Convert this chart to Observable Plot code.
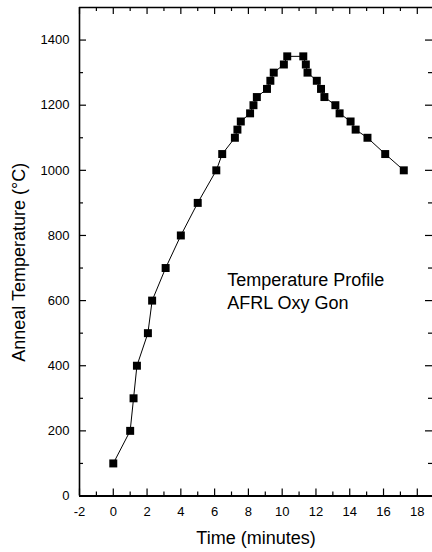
<!DOCTYPE html>
<html>
<head>
<meta charset="utf-8">
<script src="https://cdn.jsdelivr.net/npm/d3@7"></script>
<script src="https://cdn.jsdelivr.net/npm/@observablehq/plot@0.6"></script>
<style>
  html, body { margin: 0; padding: 0; background: #fff; }
  svg { display: block; }
</style>
</head>
<body>
<div id="chart"></div>
<script>
// Anneal temperature profile (AFRL Oxy Gon furnace)
const timeMin = [0, 1.0, 1.2, 1.4, 2.05, 2.3, 3.1, 4.0, 5.0, 6.1, 6.45, 7.2, 7.35, 7.55, 8.1, 8.3, 8.5, 9.1, 9.3, 9.5, 10.1, 10.3,
                 11.25, 11.4, 11.5, 12.05, 12.3, 12.5, 13.15, 13.4, 14.05, 14.35, 15.05, 16.1, 17.2];
const tempC   = [100, 200, 300, 400, 500, 600, 700, 800, 900, 1000, 1050, 1100, 1125, 1150, 1175, 1200, 1225, 1250, 1275, 1300, 1325, 1350,
                 1350, 1325, 1300, 1275, 1250, 1225, 1200, 1175, 1150, 1125, 1100, 1050, 1000];

const xMajor = [-2, 0, 2, 4, 6, 8, 10, 12, 14, 16, 18];
const xMinor = [-1, 1, 3, 5, 7, 9, 11, 13, 15, 17];
const yMajor = [0, 200, 400, 600, 800, 1000, 1200, 1400];
const yMinor = [100, 300, 500, 700, 900, 1100, 1300];

const xTitle = "Time (minutes)";
const yTitle = "Anneal Temperature (°C)";
const note = "Temperature Profile\nAFRL Oxy Gon";

const rows = timeMin.map((t, i) => ({t, T: tempC[i]}));

const W = 432, H = 552;
const mL = 79, mR = 0, mT = 7, mB = 56.5;
const fw = W - mL - mR, fh = H - mT - mB;
const major = 7, minor = 4;

const chart = Plot.plot({
  width: W,
  height: H,
  marginLeft: mL,
  marginRight: mR,
  marginTop: mT,
  marginBottom: mB,
  style: {fontFamily: "'Liberation Sans', Arial, sans-serif", background: "#fff", color: "#000"},
  x: {domain: [-2, 18.9]},
  y: {domain: [0, 1500]},
  marks: [
    // tick labels
    Plot.axisX({ticks: xMajor, tickSize: 0, tickPadding: 11, fontSize: 13, label: null, tickFormat: d => String(d)}),
    Plot.axisY({ticks: yMajor, tickSize: 0, tickPadding: 10, fontSize: 13, label: null, tickFormat: d => String(d)}),
    // inward ticks on all four sides
    Plot.tickX(xMajor, {x: d => d, insetTop: fh - major, stroke: "#000", strokeWidth: 1.2}),
    Plot.tickX(xMinor, {x: d => d, insetTop: fh - minor, stroke: "#000", strokeWidth: 1.2}),
    Plot.tickX(xMajor, {x: d => d, insetBottom: fh - major, stroke: "#000", strokeWidth: 1.2}),
    Plot.tickX(xMinor, {x: d => d, insetBottom: fh - minor, stroke: "#000", strokeWidth: 1.2}),
    Plot.tickY(yMajor, {y: d => d, insetRight: fw - major, stroke: "#000", strokeWidth: 1.2}),
    Plot.tickY(yMinor, {y: d => d, insetRight: fw - minor, stroke: "#000", strokeWidth: 1.2}),
    Plot.tickY(yMajor, {y: d => d, insetLeft: fw - major, stroke: "#000", strokeWidth: 1.2}),
    Plot.tickY(yMinor, {y: d => d, insetLeft: fw - minor, stroke: "#000", strokeWidth: 1.2}),
    // frame lines
    Plot.ruleX([-2], {stroke: "#000", strokeWidth: 1.6}),
    Plot.ruleY([1500], {stroke: "#000", strokeWidth: 1.6}),
    Plot.ruleY([0], {stroke: "#000", strokeWidth: 2}),
    // profile
    Plot.line(rows, {x: "t", y: "T", stroke: "#000", strokeWidth: 1}),
    Plot.dot(rows, {x: "t", y: "T", symbol: "square", r: 4.5, fill: "#000", stroke: "none"}),
    // annotation
    Plot.text([note], {text: d => d, frameAnchor: "top-left", dx: 147.7, dy: 282.3, textAnchor: "start",
                       lineAnchor: "middle", lineHeight: 1.28, fontSize: 18, fill: "#000"}),
    // axis titles
    Plot.text([xTitle], {text: d => d, frameAnchor: "bottom", dy: 42.5, textAnchor: "middle", lineAnchor: "middle",
                         fontSize: 18, fill: "#000"}),
    Plot.text([yTitle], {text: d => d, frameAnchor: "left", dx: -60, dy: 10.5, rotate: -90, textAnchor: "middle",
                         lineAnchor: "middle", fontSize: 18, fill: "#000"})
  ]
});

document.getElementById("chart").appendChild(chart);
</script>
</body>
</html>
